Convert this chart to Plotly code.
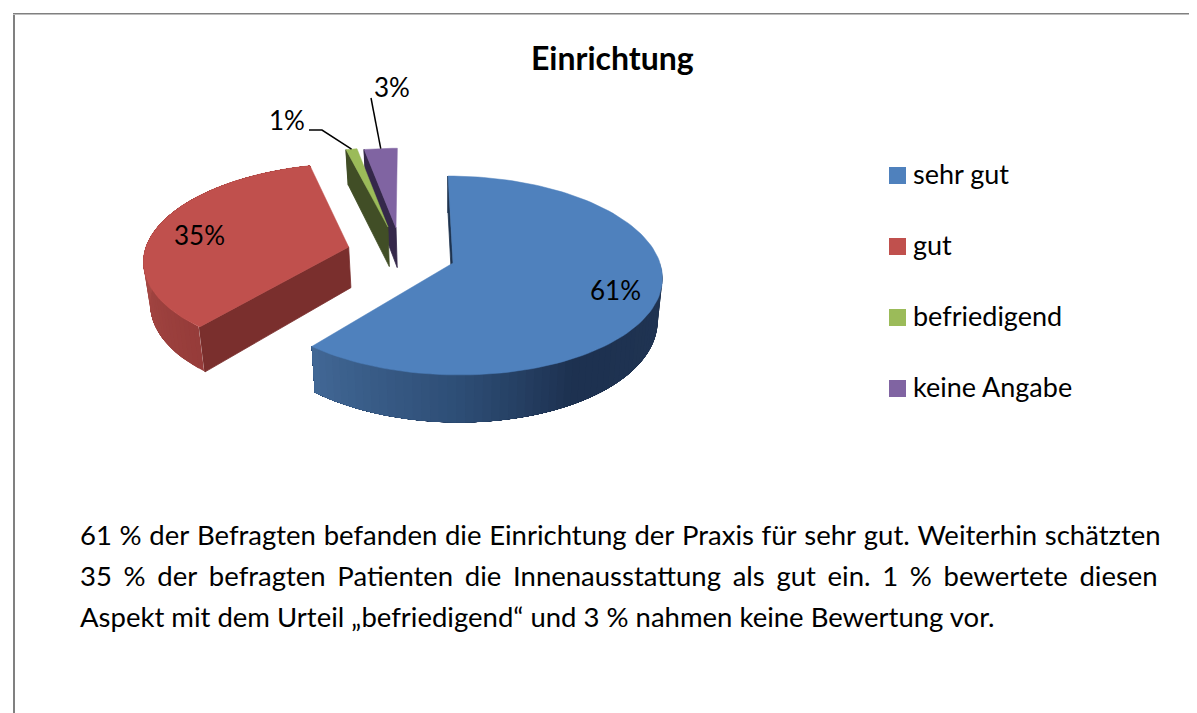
import numpy as np
import plotly.graph_objects as go

# ---- data ----
TITLE = "Einrichtung"
categories = ["sehr gut", "gut", "befriedigend", "keine Angabe"]
values = [61, 35, 1, 3]
paragraph_lines = [
    "61 % der Befragten befanden die Einrichtung der Praxis für sehr gut. Weiterhin schätzten",
    "35 % der befragten Patienten die Innenausstattung als gut ein. 1 % bewertete diesen",
    "Aspekt mit dem Urteil „befriedigend“ und 3 % nahmen keine Bewertung vor.",
]

# ---- style ----
face = ["#4F81BD", "#C0504D", "#9BBB59", "#8064A2"]
side_face = ["#1E334F", "#7A2F2D", "#414E26", "#35284A"]
wall_angles = [[90, 150, 180, 220], [220, 270, 346], None, None]
wall_cols = [
    [(34, 54, 84), (29, 49, 80), (46, 78, 118), (66, 104, 150)],
    [(150, 60, 58), (168, 74, 70), (168, 74, 70)],
    None,
    None,
]
explode = [(0.0, 0.0), (-0.51, 0.167), (-0.319, 0.3855), (-0.278, 0.3745)]
CX, CY, RX, RY, K, SHEAR, DEPTH, SHRINK, VPX = 453, 263, 207, 97.9, 0.1256, -5.6, 41.5, 0.022, 450
FONT = "Lato"
PAGE_MARGIN = 8  # the page keeps its default body margin


def project(u, v, bottom=False):
    s = 1 / (1 + K * v)
    x = CX + (RX * u + SHEAR * v) * s
    y = CY - RY * v * s
    if bottom:
        x = x + (VPX - x) * SHRINK
        y = y + DEPTH * s
    return x, y


edges = np.concatenate([[0], np.cumsum(values)]) / sum(values) * 360


def rim(i, a0, a1, n=60, bottom=False):
    th = np.radians(np.linspace(a0, a1, n))
    return project(np.sin(th) + explode[i][0], np.cos(th) + explode[i][1], bottom)


def poly(xs, ys, color, width=0):
    return go.Scatter(x=list(xs), y=list(ys), mode="lines", fill="toself", fillcolor=color,
                      line=dict(color=color, width=width), hoverinfo="skip", showlegend=False)


fig = go.Figure()
for i in [3, 2, 1, 0]:
    a0, a1 = edges[i], edges[i + 1]
    ax, ay = project(*explode[i])
    abx, aby = project(*explode[i], bottom=True)
    ex, ey = rim(i, a0, a0, 1)
    bx, by = rim(i, a0, a0, 1, bottom=True)
    if wall_angles[i]:
        lo, hi = max(a0, wall_angles[i][0]), min(a1, wall_angles[i][-1])
        steps = np.linspace(lo, hi, 61)
        for p, q in zip(steps[:-1], steps[1:]):
            m = (p + q) / 2
            rgb = [int(np.interp(m, wall_angles[i], [c[k] for c in wall_cols[i]])) for k in range(3)]
            tx, ty = rim(i, p, hi, 40)
            ux, uy = rim(i, hi, p, 40, bottom=True)
            fig.add_trace(poly(np.r_[tx, ux, tx[0]], np.r_[ty, uy, ty[0]], f"rgb({rgb[0]},{rgb[1]},{rgb[2]})"))
    fig.add_trace(poly([ex[0], ax, abx, bx[0], ex[0]], [ey[0], ay, aby, by[0], ey[0]], side_face[i], 0.8))
    # close the seam where the curved wall meets the flat side face
    fig.add_trace(go.Scatter(x=[ex[0], bx[0]], y=[ey[0], by[0]], mode="lines",
                             line=dict(color=side_face[i], width=1.5), hoverinfo="skip", showlegend=False))
    rx_, ry_ = rim(i, a0, a1, 120)
    fig.add_trace(poly(np.r_[ax, rx_, ax], np.r_[ay, ry_, ay], face[i], 0.5))

# leader lines to the small slices
g_x, g_y = rim(2, (edges[2] + edges[3]) / 2, (edges[2] + edges[3]) / 2, 1)
p_x, p_y = rim(3, (edges[3] + edges[4]) / 2, (edges[3] + edges[4]) / 2, 1)
fig.add_trace(go.Scatter(x=[309, 322, g_x[0]], y=[130, 130, g_y[0]], mode="lines",
                         line=dict(color="black", width=1.5), hoverinfo="skip", showlegend=False))
fig.add_trace(go.Scatter(x=[371, p_x[0]], y=[98, p_y[0]], mode="lines",
                         line=dict(color="black", width=1.5), hoverinfo="skip", showlegend=False))

label_pos = [(615, 290), (199, 235), (287, 120), (392, 87)]
annotations = [
    dict(x=x, y=y, text=f"{v}%", showarrow=False, xanchor="center", yanchor="middle",
         font=dict(family=FONT, size=26, color="black"))
    for v, (x, y) in zip(values, label_pos)
]
annotations.append(dict(x=612, y=57, text=f"<b>{TITLE}</b>", showarrow=False, xanchor="center", yanchor="middle",
                        font=dict(family=FONT, size=32, color="black")))

# legend drawn as squares and labels
legend_y = [175, 246, 317, 388]
shapes = [
    dict(type="rect", x0=13, x1=15, y0=13, y1=713, fillcolor="#808080", line_width=0),
    dict(type="rect", x0=13, x1=1197, y0=13, y1=14, fillcolor="#808080", line_width=0),
    dict(type="rect", x0=13, x1=1197, y0=14, y1=15, fillcolor="#BEBEBE", line_width=0),
]
for name, col, y in zip(categories, face, legend_y):
    shapes.append(dict(type="rect", x0=889, x1=906, y0=y - 8, y1=y + 9, fillcolor=col, line_width=0))
    annotations.append(dict(x=911, y=y - 2, text=name, showarrow=False, xanchor="left", yanchor="middle",
                            font=dict(family=FONT, size=27, color="black")))

# paragraph: justified lines through a wider word space
space_px = [30, 45.5, None]
para_y = [533, 568, 616]
for line, y, sp in zip(paragraph_lines, para_y, space_px):
    txt = line if sp is None else line.replace(" ", f'<span style="font-size:{sp}px"> </span>')
    annotations.append(dict(x=78, y=y, text=txt, showarrow=False, xanchor="left", yanchor="middle",
                            font=dict(family=FONT, size=27.5, color="black")))

fig.update_layout(
    width=1197 - PAGE_MARGIN, height=713 - PAGE_MARGIN, margin=dict(l=0, r=0, t=0, b=0),
    paper_bgcolor="white", plot_bgcolor="white",
    xaxis=dict(range=[PAGE_MARGIN, 1197], visible=False, fixedrange=True),
    yaxis=dict(range=[713, PAGE_MARGIN], visible=False, fixedrange=True),
    annotations=annotations, shapes=shapes,
    showlegend=False,
)
fig.write_html("out.html")
